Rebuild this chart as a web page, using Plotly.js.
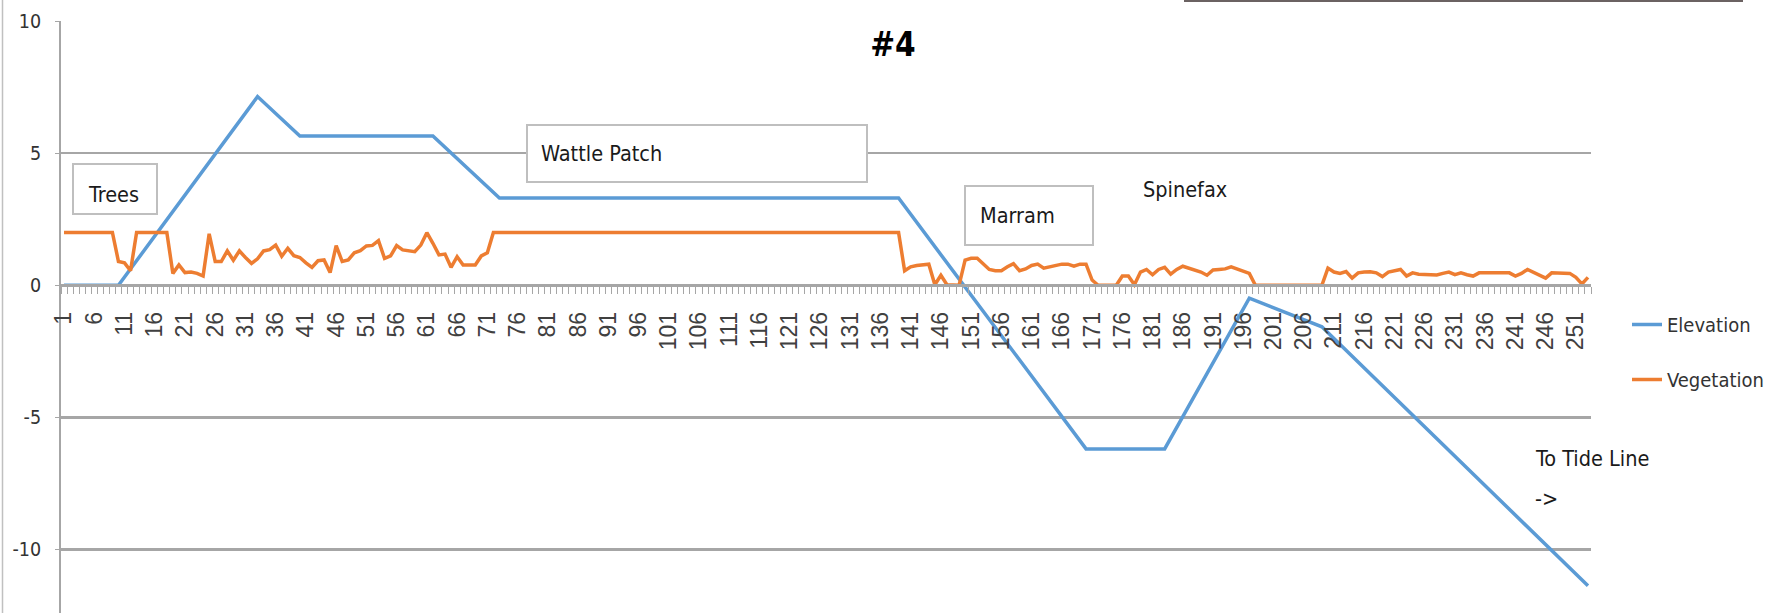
<!DOCTYPE html>
<html>
<head>
<meta charset="utf-8">
<script src="https://cdn.plot.ly/plotly-3.0.1.min.js"></script>
<style>
  html, body { margin: 0; padding: 0; background: #ffffff; }
  #chart { width: 1779px; height: 613px; }
</style>
</head>
<body>
<div id="chart"></div>
<script>
// ---------- data ----------
const chartTitle = '#4';
const seriesNames = ['Elevation', 'Vegetation'];

// Elevation: the profile is made of straight segments; these are its corner points
const elevationStations = [1, 10, 33, 40, 62, 73, 139, 170, 183, 197, 209, 253];
const elevationValues   = [0, 0, 7.14, 5.65, 5.65, 3.3, 3.3, -6.19, -6.19, -0.49, -1.57, -11.37];

// Vegetation: one value per station 1..253
const vegetationValues = [
  2, 2, 2, 2, 2, 2, 2, 2, 2, 0.9,
  0.85, 0.55, 2, 2, 2, 2, 2, 2, 0.45, 0.77,
  0.48, 0.5, 0.45, 0.35, 1.95, 0.9, 0.9, 1.3, 0.95, 1.3,
  1.05, 0.83, 1.0, 1.3, 1.35, 1.52, 1.1, 1.4, 1.12, 1.05,
  0.85, 0.68, 0.93, 0.96, 0.48, 1.5, 0.9, 0.96, 1.23, 1.31,
  1.49, 1.51, 1.69, 1.02, 1.11, 1.5, 1.34, 1.3, 1.27, 1.52,
  1.99, 1.59, 1.15, 1.18, 0.68, 1.08, 0.77, 0.77, 0.77, 1.11,
  1.23, 2, 2, 2, 2, 2, 2, 2, 2, 2,
  2, 2, 2, 2, 2, 2, 2, 2, 2, 2,
  2, 2, 2, 2, 2, 2, 2, 2, 2, 2,
  2, 2, 2, 2, 2, 2, 2, 2, 2, 2,
  2, 2, 2, 2, 2, 2, 2, 2, 2, 2,
  2, 2, 2, 2, 2, 2, 2, 2, 2, 2,
  2, 2, 2, 2, 2, 2, 2, 2, 2, 0.55,
  0.7, 0.75, 0.78, 0.8, 0.02, 0.38, 0.02, 0, 0, 0.95,
  1.02, 1.02, 0.8, 0.6, 0.55, 0.55, 0.7, 0.82, 0.55, 0.62,
  0.75, 0.8, 0.65, 0.7, 0.72, 0.8, 0.8, 0.72, 0.8, 0.8,
  0.2, 0, 0, 0, 0, 0.35, 0.35, 0.02, 0.5, 0.6,
  0.4, 0.6, 0.68, 0.42, 0.6, 0.72, 0.65, 0.58, 0.5, 0.38,
  0.58, 0.6, 0.62, 0.7, 0.62, 0.52, 0.45, 0, 0, 0,
  0, 0, 0, 0, 0, 0, 0, 0, 0, 0.65,
  0.5, 0.45, 0.52, 0.27, 0.47, 0.5, 0.51, 0.47, 0.33, 0.5,
  0.55, 0.6, 0.35, 0.47, 0.42, 0.4, 0.39, 0.39, 0.45, 0.5,
  0.4, 0.47, 0.4, 0.35, 0.47, 0.47, 0.47, 0.47, 0.47, 0.47,
  0.35, 0.45, 0.6, 0.5, 0.4, 0.27, 0.47, 0.47, 0.47, 0.45,
  0.3, 0.05, 0.3
];

// x tick labels (every 5th station)
const xTickValues = [1, 6, 11, 16, 21, 26, 31, 36, 41, 46, 51, 56, 61, 66, 71, 76, 81, 86, 91, 96,
  101, 106, 111, 116, 121, 126, 131, 136, 141, 146, 151, 156, 161, 166, 171, 176, 181, 186, 191, 196,
  201, 206, 211, 216, 221, 226, 231, 236, 241, 246, 251];
const xTickLabels = xTickValues.map(String);
const yTickValues = [-10, -5, 0, 5, 10];
const yTickLabels = ['-10', '-5', '0', '5', '10'];

// zone labels
const zoneLabels = ['Trees', 'Wattle Patch', 'Marram', 'Spinefax', 'To Tide Line', '->'];

// ---------- layout helpers (pixel -> paper) ----------
const W = 1779, H = 613;
const M = { l: 61, r: 188, t: 21, b: 0, autoexpand: false };
const PW = W - M.l - M.r, PH = H - M.t - M.b;
const px = x => (x - M.l) / PW;
const py = y => (H - M.b - y) / PH;

const stations = vegetationValues.map((_, i) => i + 1);
const yRange = [-12.4, 10];

const FONT = '"Liberation Sans Narrow", "DejaVu Sans Condensed", "Arial Narrow", sans-serif';
const TICKFONT = '"Liberation Sans", Arial, sans-serif';

const traces = [
  {
    x: elevationStations, y: elevationValues, name: seriesNames[0],
    type: 'scatter', mode: 'lines', legendgroup: 'a',
    line: { color: '#5b9bd5', width: 3.5 }
  },
  {
    x: stations, y: vegetationValues, name: seriesNames[1],
    type: 'scatter', mode: 'lines', legendgroup: 'b',
    line: { color: '#ed7d31', width: 3.5 }
  }
];

function box(x0, y0, x1, y1) {
  return { type: 'rect', xref: 'paper', yref: 'paper', layer: 'above',
    x0: px(x0), x1: px(x1), y0: py(y1), y1: py(y0),
    line: { color: '#bfbfbf', width: 2 }, fillcolor: '#ffffff' };
}
function label(text, x, y) {
  return { text: text, xref: 'paper', yref: 'paper', x: px(x), y: py(y),
    xanchor: 'left', yanchor: 'middle', showarrow: false, borderpad: 0,
    font: { family: FONT, size: 21.5, color: '#1a1a1a' } };
}

const layout = {
  width: W, height: H,
  margin: M,
  paper_bgcolor: '#ffffff', plot_bgcolor: '#ffffff',
  showlegend: true,
  title: { text: '<b>' + chartTitle + '</b>', xref: 'container', yref: 'container',
    x: 893 / W, xanchor: 'center', y: 1 - 44 / H, yanchor: 'middle',
    font: { family: FONT, size: 33, color: '#000000' } },
  xaxis: {
    type: 'linear', range: [0.5, stations.length + 0.5],
    anchor: 'free', position: (0 - yRange[0]) / (yRange[1] - yRange[0]),
    showgrid: false, zeroline: false,
    showline: true, linecolor: '#a6a6a6', linewidth: 2.5,
    tickmode: 'array', tickvals: xTickValues, ticktext: xTickLabels,
    ticks: '', tickangle: -90, ticklabelstandoff: 16,
    tickfont: { family: TICKFONT, size: 23, color: '#404040' },
    minor: { tickmode: 'linear', tick0: 0.5, dtick: 1, ticks: 'outside', ticklen: 7,
      tickwidth: 1, tickcolor: '#a6a6a6', showgrid: false }
  },
  yaxis: {
    range: yRange, tickmode: 'array', tickvals: yTickValues, ticktext: yTickLabels,
    showgrid: true, gridcolor: '#a6a6a6', gridwidth: 2.5, zeroline: false,
    showline: true, linecolor: '#a6a6a6', linewidth: 2,
    ticks: 'outside', ticklen: 4, tickcolor: '#a6a6a6', ticklabelstandoff: 10,
    tickfont: { family: FONT, size: 19.5, color: '#333333' }
  },
  legend: {
    x: px(1627), xanchor: 'left', y: py(305), yanchor: 'top',
    bgcolor: 'rgba(0,0,0,0)', borderwidth: 0, tracegroupgap: 26,
    font: { family: FONT, size: 20, color: '#333333' }
  },
  shapes: [
    box(73, 164, 157, 214),
    box(527, 125, 867, 182),
    box(965, 186, 1093, 245),
    // strip of a neighbouring picture at the top edge
    { type: 'rect', xref: 'paper', yref: 'paper', layer: 'above',
      x0: px(1184), x1: px(1743), y0: py(2), y1: py(0),
      line: { width: 0 }, fillcolor: '#6b6262' },
    // border of a neighbouring picture at the left edge
    { type: 'line', xref: 'paper', yref: 'paper', layer: 'above',
      x0: px(2.5), x1: px(2.5), y0: py(613), y1: py(0),
      line: { color: '#c0c0c0', width: 1.5 } }
  ],
  annotations: [
    label(zoneLabels[0], 87, 194),
    label(zoneLabels[1], 540, 153),
    label(zoneLabels[2], 979, 215),
    label(zoneLabels[3], 1142, 189),
    label(zoneLabels[4], 1534, 458),
    label(zoneLabels[5], 1534, 498)
  ]
};

Plotly.newPlot('chart', traces, layout, { displayModeBar: false, staticPlot: true });
</script>
</body>
</html>
